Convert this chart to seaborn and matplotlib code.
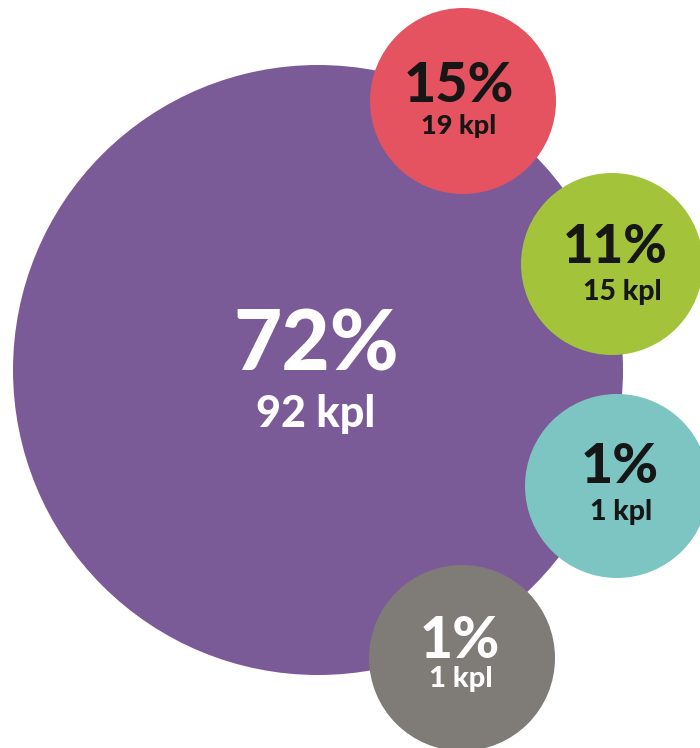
import matplotlib
matplotlib.use("Agg")
import matplotlib.pyplot as plt
import seaborn as sns
import pandas as pd

# Share of items per group and item counts
groups = ["A", "B", "C", "D", "E"]
percent = [72, 15, 11, 1, 1]
count_kpl = [92, 19, 15, 1, 1]

# Layout (pixel canvas) – bubble centres, radii and label anchors
cx = [318, 463, 612, 617, 462]
cy = [370, 101, 264, 486, 658]
radius = [305, 93, 91, 92, 93]
pct_x = [316, 459, 615, 620, 460]
pct_base = [370, 102, 263, 483, 658]
kpl_x = [316, 459, 622, 621, 461]
kpl_base = [427, 134, 300, 520, 687]
pct_size = [60, 40, 38, 40, 41]
kpl_size = [31, 19.5, 20.5, 20.5, 21]

colors = ["#7A5B97", "#E4535F", "#A3C33B", "#7CC5C3", "#7F7B76"]
text_colors = ["white", "#161616", "#161616", "#161616", "white"]

W, H, DPI = 700, 748, 100
sns.set_theme(style="white")
plt.rcParams["font.family"] = ["Lato", "DejaVu Sans"]

fig = plt.figure(figsize=(W / DPI, H / DPI), dpi=DPI)
ax = fig.add_axes([0, 0, 1, 1])
ax.set_xlim(0, W)
ax.set_ylim(H, 0)
ax.set_aspect("equal")
ax.axis("off")

df = pd.DataFrame({"group": groups, "x": cx, "y": cy, "r": radius})
# marker diameter in points for a circle of given pixel radius
df["s"] = [(2 * r * 72 / DPI) ** 2 for r in radius]

sns.scatterplot(data=df, x="x", y="y", hue="group", palette=colors,
                s=df["s"].values, linewidth=0, legend=False, ax=ax,
                clip_on=False)

for i in range(len(groups)):
    ax.text(pct_x[i], pct_base[i], f"{percent[i]}%", ha="center",
            va="baseline", fontsize=pct_size[i], fontweight="black",
            color=text_colors[i])
    ax.text(kpl_x[i], kpl_base[i], f"{count_kpl[i]} kpl", ha="center",
            va="baseline", fontsize=kpl_size[i], fontweight="black",
            color=text_colors[i])

fig.savefig("out.png", dpi=DPI, facecolor="white")
